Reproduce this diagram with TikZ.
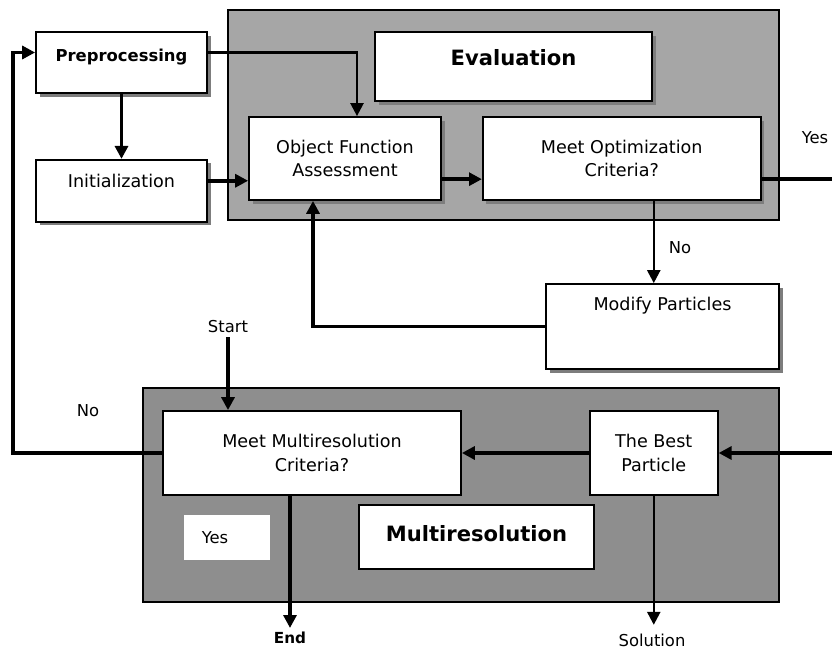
\documentclass[tikz,border=0pt]{standalone}
\usepackage{fontspec}
\setmainfont{DejaVu Sans}
\usepackage{xcolor}
\usepackage{tikz}
\usetikzlibrary{positioning}
\usetikzlibrary{arrows.meta}
\usetikzlibrary{shadows}
\definecolor{evalgray}{RGB}{166,166,166}
\definecolor{multigray}{RGB}{142,142,142}
\definecolor{shadegray}{RGB}{125,125,125}
\tikzset {
  % plain white box
  main/.style = {draw, fill=white, line width=1.5pt, inner sep=0pt, align=center,
    font=\fontsize{15}{20}\selectfont},
  % boxes with a drop shadow
  shadowed/.style = {drop shadow={shadow xshift=3pt, shadow yshift=-3pt, fill=shadegray, opacity=1}},
  % grey panels
  panel/.style = {draw, line width=1.5pt, inner sep=0pt},
  % panel titles
  heading/.style = {draw, fill=white, line width=1.5pt, inner sep=0pt,
    font=\fontsize{18}{22}\bfseries\selectfont},
  tag/.style = {font=\fontsize{14}{16}\selectfont},
  % flow lines
  heavy/.style = {line width=3pt, -{Triangle[length=11pt,width=11pt]}},
  light/.style = {line width=2pt, -{Triangle[length=11pt,width=11pt]}},
}

\begin{document}
\begin{tikzpicture}[x=0.03cm, y=-0.03cm]
        \useasboundingbox[fill=white] (0,0) rectangle (832,650);

        % panels
        \node[panel, fill=evalgray, minimum width=16.53cm, minimum height=6.3cm] (evalpanel) at (503.5,115) {};
        \node[panel, fill=multigray, minimum width=19.08cm, minimum height=6.42cm] (multipanel) at (461,495) {};
        \node[heading, shadowed, minimum width=8.31cm, minimum height=2.07cm, text height=1.02cm, text depth=1.05cm] (evaltitle) at (513.5,66.5) {Evaluation\hspace{0.5cm}};
        \node[heading, minimum width=7.05cm, minimum height=1.92cm, text height=1.08cm, text depth=0.84cm] (multititle) at (476.5,537) {Multiresolution};

        % boxes
        \node[main, shadowed, font=\fontsize{14}{17}\bfseries\selectfont, minimum width=5.13cm, minimum height=1.83cm, text height=0.9cm, text depth=0.93cm] (pre) at (121.5,62.5) {Preprocessing};
        \node[main, shadowed, minimum width=5.13cm, minimum height=1.86cm, text height=0.84cm, text depth=1.02cm] (init) [below=1.95cm of pre] {Initialization};
        \node[main, shadowed, minimum width=5.76cm, minimum height=2.49cm] (obj) at (345,158.5) {Object Function\\Assessment};
        \node[main, shadowed, minimum width=8.34cm, minimum height=2.49cm] (opt) [right=1.2cm of obj] {Meet Optimization\\Criteria?};
        \node[main, shadowed, minimum width=6.99cm, minimum height=2.55cm, text height=0.81cm, text depth=1.74cm] (mod) at (662.5,326.5) {Modify Particles};
        \node[main, minimum width=8.94cm, minimum height=2.52cm] (multi) at (312,453) {Meet Multiresolution\\Criteria?};
        \node[main, minimum width=3.84cm, minimum height=2.52cm] (best) [right=3.81cm of multi] {The Best\\Particle};
        \node[main, draw=none, font=\fontsize{14}{16}\selectfont, minimum width=2.58cm, minimum height=1.35cm] (yesbox) at (227,537.5) {Yes\hspace{0.72cm}};

        % free labels
        \node[tag] (start) at (228,327) {Start};
        \node[tag] (nomulti) at (88,411) {No};
        \node[tag] (noopt) at (680,248) {No};
        \node[tag] (yesopt) at (815,138) {Yes};
        \node[tag, font=\fontsize{13}{16}\bfseries\selectfont] (finish) at (290,638) {End};
        \node[tag] (sol) at (652,640) {Solution};

        \coordinate (rightrim) at (832,0);
        \coordinate (preout) at ([yshift=0.3cm]pre.east);
        \coordinate (prein) at ([yshift=0.3cm]pre.west);
        \coordinate (initout) at ([yshift=0.3cm]init.east);
        \coordinate (objout) at ([yshift=-0.62cm]obj.east);
        \coordinate (optout) at ([yshift=-0.62cm]opt.east);
        \coordinate (optdown) at ([xshift=0.96cm]opt.south);
        \coordinate (multiout) at ([xshift=-0.66cm]multi.south);
        \coordinate (bestin) at (832,453);

        \draw [light] (preout) -| ([xshift=0.36cm]obj.north);
        \draw [heavy] (pre) -- (init);
        \draw [heavy] (initout) -- (initout -| obj.west);
        \draw [heavy] (objout) -- (objout -| opt.west);
        \draw [heavy, -] (optout) -- (optout -| rightrim);
        \draw [light] (optdown) -- (optdown |- mod.north);
        \draw [heavy] (mod.west) -| ([xshift=-0.96cm]obj.south);
        \draw [heavy] (multi.west) -- ++(-4.47cm,0) |- (prein);
        \draw [heavy] (start) -- (start |- multi.north);
        \draw [heavy] (best) -- (multi);
        \draw [heavy] (bestin) -- (best);
        \draw [heavy] (multiout) -- (multiout |- finish.north);
        \draw [light, shorten >=4pt] (best) -- (best |- sol.north);
      \end{tikzpicture}
\end{document}
